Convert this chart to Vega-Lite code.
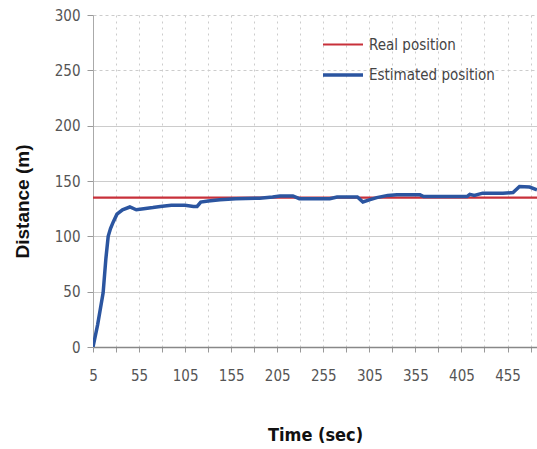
{
  "$schema": "https://vega.github.io/schema/vega-lite/v6.json",
  "autosize": "none",
  "padding": {"left": 93, "top": 15, "right": 0, "bottom": 102},
  "width": 444,
  "height": 332,
  "background": "white",
  "config": {"view": {"stroke": null}},
  "data": {"values": [
    {"series": "Real position", "t": 5, "v": 135},
    {"series": "Real position", "t": 487, "v": 135},
    {"series": "Estimated position", "t": 5, "v": 0},
    {"series": "Estimated position", "t": 10, "v": 20},
    {"series": "Estimated position", "t": 16, "v": 49},
    {"series": "Estimated position", "t": 19, "v": 80},
    {"series": "Estimated position", "t": 21.5, "v": 100},
    {"series": "Estimated position", "t": 24, "v": 107},
    {"series": "Estimated position", "t": 27, "v": 113},
    {"series": "Estimated position", "t": 31, "v": 120},
    {"series": "Estimated position", "t": 37, "v": 124},
    {"series": "Estimated position", "t": 45, "v": 126.5},
    {"series": "Estimated position", "t": 52, "v": 124},
    {"series": "Estimated position", "t": 60, "v": 125},
    {"series": "Estimated position", "t": 70, "v": 126},
    {"series": "Estimated position", "t": 78, "v": 127},
    {"series": "Estimated position", "t": 90, "v": 128},
    {"series": "Estimated position", "t": 105, "v": 128},
    {"series": "Estimated position", "t": 114, "v": 127},
    {"series": "Estimated position", "t": 118, "v": 127},
    {"series": "Estimated position", "t": 122, "v": 131},
    {"series": "Estimated position", "t": 130, "v": 132},
    {"series": "Estimated position", "t": 143, "v": 133},
    {"series": "Estimated position", "t": 160, "v": 134},
    {"series": "Estimated position", "t": 186, "v": 134.5},
    {"series": "Estimated position", "t": 200, "v": 135.5},
    {"series": "Estimated position", "t": 208, "v": 136.5},
    {"series": "Estimated position", "t": 222, "v": 136.5},
    {"series": "Estimated position", "t": 229, "v": 134},
    {"series": "Estimated position", "t": 245, "v": 134},
    {"series": "Estimated position", "t": 262, "v": 134},
    {"series": "Estimated position", "t": 270, "v": 135.5},
    {"series": "Estimated position", "t": 292, "v": 135.5},
    {"series": "Estimated position", "t": 298, "v": 131},
    {"series": "Estimated position", "t": 305, "v": 133},
    {"series": "Estimated position", "t": 313, "v": 135},
    {"series": "Estimated position", "t": 325, "v": 137},
    {"series": "Estimated position", "t": 335, "v": 137.5},
    {"series": "Estimated position", "t": 360, "v": 137.5},
    {"series": "Estimated position", "t": 364, "v": 136},
    {"series": "Estimated position", "t": 390, "v": 136},
    {"series": "Estimated position", "t": 411, "v": 136},
    {"series": "Estimated position", "t": 414, "v": 138},
    {"series": "Estimated position", "t": 419, "v": 137},
    {"series": "Estimated position", "t": 428, "v": 139},
    {"series": "Estimated position", "t": 450, "v": 139},
    {"series": "Estimated position", "t": 461, "v": 139.5},
    {"series": "Estimated position", "t": 468, "v": 145},
    {"series": "Estimated position", "t": 479, "v": 144.5},
    {"series": "Estimated position", "t": 487, "v": 142}
  ]},
  "mark": {"type": "line", "clip": true},
  "encoding": {
    "x": {
      "field": "t", "type": "quantitative",
      "scale": {"domain": [5, 487], "nice": false, "zero": false},
      "axis": {
        "title": "Time (sec)",
        "values": [5, 30, 55, 80, 105, 130, 155, 180, 205, 230, 255, 280, 305, 330, 355, 380, 405, 430, 455, 480],
        "labelExpr": "(datum.value - 5) % 50 == 0 ? datum.label : ''",
        "labelFont": "DejaVu Sans Condensed, Liberation Sans", "labelFontSize": 15, "labelColor": "#555555",
        "labelPadding": 16, "labelFlush": false,
        "tickSize": 5, "tickColor": "#999999",
        "domainColor": "#888888", "domainWidth": 1.5,
        "grid": true, "gridColor": "#cccccc", "gridDash": [2, 4], "gridWidth": 1,
        "titleFont": "DejaVu Sans Condensed, Liberation Sans", "titleFontWeight": "bold", "titleFontSize": 18, "titleColor": "#111111",
        "titleX": 222, "titleY": 88, "titleBaseline": "middle"
      }
    },
    "y": {
      "field": "v", "type": "quantitative",
      "scale": {"domain": [0, 300], "nice": false},
      "axis": {
        "title": "Distance (m)",
        "values": [0, 50, 100, 150, 200, 250, 300],
        "labelFont": "DejaVu Sans Condensed, Liberation Sans", "labelFontSize": 15, "labelColor": "#555555",
        "labelPadding": 7, "tickSize": 6, "tickColor": "#999999",
        "domainColor": "#aaaaaa",
        "grid": true, "gridColor": "#cccccc",
        "gridDash": {"condition": {"test": "datum.value >= 250", "value": [3, 3]}, "value": []},
        "titleFont": "Liberation Sans", "titleFontWeight": "bold", "titleFontSize": 19, "titleColor": "#111111",
        "titleX": -71, "titleY": 186, "titleAngle": -90, "titleBaseline": "middle", "titleAlign": "center"
      }
    },
    "color": {
      "field": "series", "type": "nominal",
      "scale": {"domain": ["Real position", "Estimated position"], "range": ["#c8303a", "#2b55a0"]},
      "legend": {
        "title": null, "orient": "none", "legendX": 228, "legendY": 8,
        "symbolType": "stroke", "symbolSize": 1600, "symbolStrokeWidth": 2.5,
        "labelFont": "DejaVu Sans Condensed, Liberation Sans", "labelFontSize": 15, "labelColor": "#444444",
        "labelOffset": 4, "rowPadding": 0
      }
    },
    "strokeWidth": {
      "field": "series", "type": "nominal",
      "scale": {"domain": ["Real position", "Estimated position"], "range": [2.2, 3.5]},
      "legend": null
    }
  }
}
